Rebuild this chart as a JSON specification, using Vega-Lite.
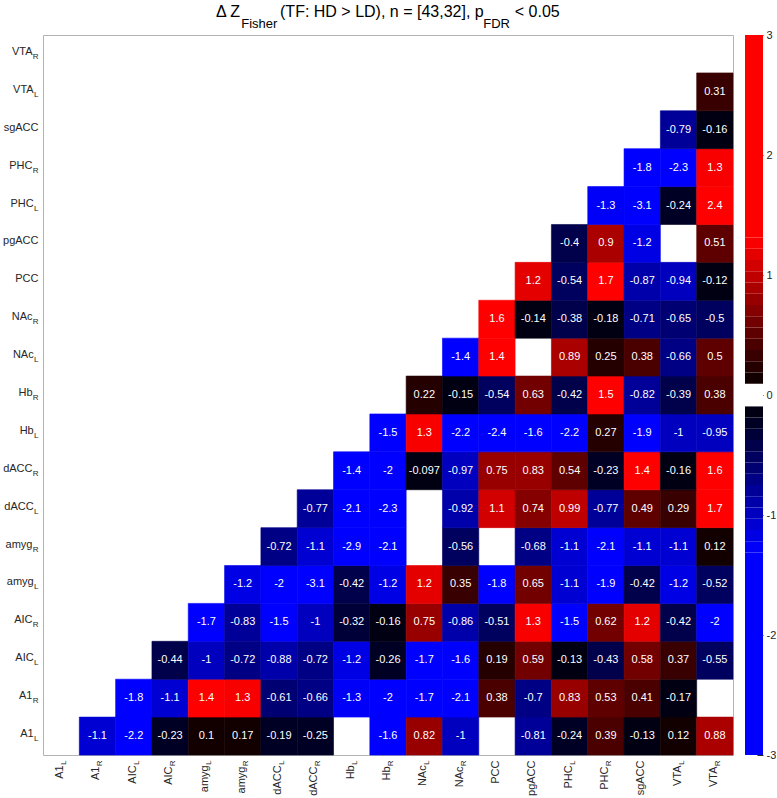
{
  "$schema": "https://vega.github.io/schema/vega-lite/v6.json",
  "background": "white",
  "padding": {"left": 2, "top": 3, "right": 0, "bottom": 0},
  "bounds": "flush",
  "spacing": 12,
  "config": {
    "font": "Liberation Sans",
    "view": {"stroke": "#b3b3b3"},
    "axis": {"grid": false, "domain": false, "ticks": false, "labelColor": "#262626", "labelFont": "Liberation Sans", "labelLimit": 0, "labelOverlap": false, "labelFlush": false, "title": null}
  },
  "hconcat": [
    {
      "width": 690,
      "height": 720,
      "title": {
        "text": "\u0394 Z\u00a0\u00a0\u00a0\u00a0\u00a0\u00a0\u00a0\u00a0 (TF: HD > LD), n = [43,32], p\u00a0\u00a0\u00a0\u00a0\u00a0\u00a0 < 0.05",
        "subtitle": "\u200b\u00a0\u00a0\u00a0\u00a0\u00a0\u00a0\u00a0Fisher\u00a0\u00a0\u00a0\u00a0\u00a0\u00a0\u00a0\u00a0\u00a0\u00a0\u00a0\u00a0\u00a0\u00a0\u00a0\u00a0\u00a0\u00a0\u00a0\u00a0\u00a0\u00a0\u00a0\u00a0\u00a0\u00a0\u00a0\u00a0\u00a0\u00a0\u00a0\u00a0\u00a0\u00a0\u00a0\u00a0\u00a0\u00a0\u00a0\u00a0\u00a0\u00a0\u00a0\u00a0\u00a0\u00a0\u00a0\u00a0\u00a0\u00a0\u00a0\u00a0\u00a0\u00a0\u00a0\u00a0\u00a0FDR",
        "anchor": "start",
        "frame": "group",
        "dx": 173,
        "font": "Liberation Sans",
        "subtitleFont": "Liberation Sans",
        "fontSize": 16,
        "subtitleFontSize": 13,
        "fontWeight": "normal",
        "subtitleFontWeight": "normal",
        "color": "#000000",
        "subtitleColor": "#000000",
        "subtitlePadding": -2,
        "offset": 4
      },
      "data": {"values": [
        {"r":"A1_L","c":"A1_R","v":-1.1},{"r":"A1_L","c":"AIC_L","v":-2.2},{"r":"A1_L","c":"AIC_R","v":-0.23},{"r":"A1_L","c":"amyg_L","v":0.1},{"r":"A1_L","c":"amyg_R","v":0.17},{"r":"A1_L","c":"dACC_L","v":-0.19},{"r":"A1_L","c":"dACC_R","v":-0.25},{"r":"A1_L","c":"Hb_R","v":-1.6},{"r":"A1_L","c":"NAc_L","v":0.82},{"r":"A1_L","c":"NAc_R","v":-1},{"r":"A1_L","c":"pgACC","v":-0.81},{"r":"A1_L","c":"PHC_L","v":-0.24},{"r":"A1_L","c":"PHC_R","v":0.39},{"r":"A1_L","c":"sgACC","v":-0.13},{"r":"A1_L","c":"VTA_L","v":0.12},{"r":"A1_L","c":"VTA_R","v":0.88},
        {"r":"A1_R","c":"AIC_L","v":-1.8},{"r":"A1_R","c":"AIC_R","v":-1.1},{"r":"A1_R","c":"amyg_L","v":1.4},{"r":"A1_R","c":"amyg_R","v":1.3},{"r":"A1_R","c":"dACC_L","v":-0.61},{"r":"A1_R","c":"dACC_R","v":-0.66},{"r":"A1_R","c":"Hb_L","v":-1.3},{"r":"A1_R","c":"Hb_R","v":-2},{"r":"A1_R","c":"NAc_L","v":-1.7},{"r":"A1_R","c":"NAc_R","v":-2.1},{"r":"A1_R","c":"PCC","v":0.38},{"r":"A1_R","c":"pgACC","v":-0.7},{"r":"A1_R","c":"PHC_L","v":0.83},{"r":"A1_R","c":"PHC_R","v":0.53},{"r":"A1_R","c":"sgACC","v":0.41},{"r":"A1_R","c":"VTA_L","v":-0.17},
        {"r":"AIC_L","c":"AIC_R","v":-0.44},{"r":"AIC_L","c":"amyg_L","v":-1},{"r":"AIC_L","c":"amyg_R","v":-0.72},{"r":"AIC_L","c":"dACC_L","v":-0.88},{"r":"AIC_L","c":"dACC_R","v":-0.72},{"r":"AIC_L","c":"Hb_L","v":-1.2},{"r":"AIC_L","c":"Hb_R","v":-0.26},{"r":"AIC_L","c":"NAc_L","v":-1.7},{"r":"AIC_L","c":"NAc_R","v":-1.6},{"r":"AIC_L","c":"PCC","v":0.19},{"r":"AIC_L","c":"pgACC","v":0.59},{"r":"AIC_L","c":"PHC_L","v":-0.13},{"r":"AIC_L","c":"PHC_R","v":-0.43},{"r":"AIC_L","c":"sgACC","v":0.58},{"r":"AIC_L","c":"VTA_L","v":0.37},{"r":"AIC_L","c":"VTA_R","v":-0.55},
        {"r":"AIC_R","c":"amyg_L","v":-1.7},{"r":"AIC_R","c":"amyg_R","v":-0.83},{"r":"AIC_R","c":"dACC_L","v":-1.5},{"r":"AIC_R","c":"dACC_R","v":-1},{"r":"AIC_R","c":"Hb_L","v":-0.32},{"r":"AIC_R","c":"Hb_R","v":-0.16},{"r":"AIC_R","c":"NAc_L","v":0.75},{"r":"AIC_R","c":"NAc_R","v":-0.86},{"r":"AIC_R","c":"PCC","v":-0.51},{"r":"AIC_R","c":"pgACC","v":1.3},{"r":"AIC_R","c":"PHC_L","v":-1.5},{"r":"AIC_R","c":"PHC_R","v":0.62},{"r":"AIC_R","c":"sgACC","v":1.2},{"r":"AIC_R","c":"VTA_L","v":-0.42},{"r":"AIC_R","c":"VTA_R","v":-2},
        {"r":"amyg_L","c":"amyg_R","v":-1.2},{"r":"amyg_L","c":"dACC_L","v":-2},{"r":"amyg_L","c":"dACC_R","v":-3.1},{"r":"amyg_L","c":"Hb_L","v":-0.42},{"r":"amyg_L","c":"Hb_R","v":-1.2},{"r":"amyg_L","c":"NAc_L","v":1.2},{"r":"amyg_L","c":"NAc_R","v":0.35},{"r":"amyg_L","c":"PCC","v":-1.8},{"r":"amyg_L","c":"pgACC","v":0.65},{"r":"amyg_L","c":"PHC_L","v":-1.1},{"r":"amyg_L","c":"PHC_R","v":-1.9},{"r":"amyg_L","c":"sgACC","v":-0.42},{"r":"amyg_L","c":"VTA_L","v":-1.2},{"r":"amyg_L","c":"VTA_R","v":-0.52},
        {"r":"amyg_R","c":"dACC_L","v":-0.72},{"r":"amyg_R","c":"dACC_R","v":-1.1},{"r":"amyg_R","c":"Hb_L","v":-2.9},{"r":"amyg_R","c":"Hb_R","v":-2.1},{"r":"amyg_R","c":"NAc_R","v":-0.56},{"r":"amyg_R","c":"pgACC","v":-0.68},{"r":"amyg_R","c":"PHC_L","v":-1.1},{"r":"amyg_R","c":"PHC_R","v":-2.1},{"r":"amyg_R","c":"sgACC","v":-1.1},{"r":"amyg_R","c":"VTA_L","v":-1.1},{"r":"amyg_R","c":"VTA_R","v":0.12},
        {"r":"dACC_L","c":"dACC_R","v":-0.77},{"r":"dACC_L","c":"Hb_L","v":-2.1},{"r":"dACC_L","c":"Hb_R","v":-2.3},{"r":"dACC_L","c":"NAc_R","v":-0.92},{"r":"dACC_L","c":"PCC","v":1.1},{"r":"dACC_L","c":"pgACC","v":0.74},{"r":"dACC_L","c":"PHC_L","v":0.99},{"r":"dACC_L","c":"PHC_R","v":-0.77},{"r":"dACC_L","c":"sgACC","v":0.49},{"r":"dACC_L","c":"VTA_L","v":0.29},{"r":"dACC_L","c":"VTA_R","v":1.7},
        {"r":"dACC_R","c":"Hb_L","v":-1.4},{"r":"dACC_R","c":"Hb_R","v":-2},{"r":"dACC_R","c":"NAc_L","v":-0.097},{"r":"dACC_R","c":"NAc_R","v":-0.97},{"r":"dACC_R","c":"PCC","v":0.75},{"r":"dACC_R","c":"pgACC","v":0.83},{"r":"dACC_R","c":"PHC_L","v":0.54},{"r":"dACC_R","c":"PHC_R","v":-0.23},{"r":"dACC_R","c":"sgACC","v":1.4},{"r":"dACC_R","c":"VTA_L","v":-0.16},{"r":"dACC_R","c":"VTA_R","v":1.6},
        {"r":"Hb_L","c":"Hb_R","v":-1.5},{"r":"Hb_L","c":"NAc_L","v":1.3},{"r":"Hb_L","c":"NAc_R","v":-2.2},{"r":"Hb_L","c":"PCC","v":-2.4},{"r":"Hb_L","c":"pgACC","v":-1.6},{"r":"Hb_L","c":"PHC_L","v":-2.2},{"r":"Hb_L","c":"PHC_R","v":0.27},{"r":"Hb_L","c":"sgACC","v":-1.9},{"r":"Hb_L","c":"VTA_L","v":-1},{"r":"Hb_L","c":"VTA_R","v":-0.95},
        {"r":"Hb_R","c":"NAc_L","v":0.22},{"r":"Hb_R","c":"NAc_R","v":-0.15},{"r":"Hb_R","c":"PCC","v":-0.54},{"r":"Hb_R","c":"pgACC","v":0.63},{"r":"Hb_R","c":"PHC_L","v":-0.42},{"r":"Hb_R","c":"PHC_R","v":1.5},{"r":"Hb_R","c":"sgACC","v":-0.82},{"r":"Hb_R","c":"VTA_L","v":-0.39},{"r":"Hb_R","c":"VTA_R","v":0.38},
        {"r":"NAc_L","c":"NAc_R","v":-1.4},{"r":"NAc_L","c":"PCC","v":1.4},{"r":"NAc_L","c":"PHC_L","v":0.89},{"r":"NAc_L","c":"PHC_R","v":0.25},{"r":"NAc_L","c":"sgACC","v":0.38},{"r":"NAc_L","c":"VTA_L","v":-0.66},{"r":"NAc_L","c":"VTA_R","v":0.5},
        {"r":"NAc_R","c":"PCC","v":1.6},{"r":"NAc_R","c":"pgACC","v":-0.14},{"r":"NAc_R","c":"PHC_L","v":-0.38},{"r":"NAc_R","c":"PHC_R","v":-0.18},{"r":"NAc_R","c":"sgACC","v":-0.71},{"r":"NAc_R","c":"VTA_L","v":-0.65},{"r":"NAc_R","c":"VTA_R","v":-0.5},
        {"r":"PCC","c":"pgACC","v":1.2},{"r":"PCC","c":"PHC_L","v":-0.54},{"r":"PCC","c":"PHC_R","v":1.7},{"r":"PCC","c":"sgACC","v":-0.87},{"r":"PCC","c":"VTA_L","v":-0.94},{"r":"PCC","c":"VTA_R","v":-0.12},
        {"r":"pgACC","c":"PHC_L","v":-0.4},{"r":"pgACC","c":"PHC_R","v":0.9},{"r":"pgACC","c":"sgACC","v":-1.2},{"r":"pgACC","c":"VTA_R","v":0.51},
        {"r":"PHC_L","c":"PHC_R","v":-1.3},{"r":"PHC_L","c":"sgACC","v":-3.1},{"r":"PHC_L","c":"VTA_L","v":-0.24},{"r":"PHC_L","c":"VTA_R","v":2.4},
        {"r":"PHC_R","c":"sgACC","v":-1.8},{"r":"PHC_R","c":"VTA_L","v":-2.3},{"r":"PHC_R","c":"VTA_R","v":1.3},
        {"r":"sgACC","c":"VTA_L","v":-0.79},{"r":"sgACC","c":"VTA_R","v":-0.16},
        {"r":"VTA_L","c":"VTA_R","v":0.31}
      ]},
      "layer": [
        {
          "mark": {"type": "rect", "strokeWidth": 0.6},
          "encoding": {
            "x": {"field": "c", "type": "nominal", "scale": {"domain": ["A1_L","A1_R","AIC_L","AIC_R","amyg_L","amyg_R","dACC_L","dACC_R","Hb_L","Hb_R","NAc_L","NAc_R","PCC","pgACC","PHC_L","PHC_R","sgACC","VTA_L","VTA_R"], "paddingInner": 0, "paddingOuter": 0},
              "axis": {"orient": "bottom", "labelAngle": 270, "labelAlign": "right", "labelBaseline": "middle", "labelFontSize": 11, "labelOffset": -1,
                "labelExpr": "indexof(datum.value,'_')<0 ? datum.value : substring(datum.value,0,indexof(datum.value,'_'))",
                "labelPadding": {"condition": [{"test": "indexof(datum.value,'_')<0", "value": 5}, {"test": "indexof(datum.value,'_L')>=0", "value": 9.8}], "value": 11}}},
            "y": {"field": "r", "type": "nominal", "scale": {"domain": ["VTA_R","VTA_L","sgACC","PHC_R","PHC_L","pgACC","PCC","NAc_R","NAc_L","Hb_R","Hb_L","dACC_R","dACC_L","amyg_R","amyg_L","AIC_R","AIC_L","A1_R","A1_L"], "paddingInner": 0, "paddingOuter": 0},
              "axis": {"orient": "left", "labelAlign": "right", "labelBaseline": "middle", "labelFontSize": 11, "labelOffset": -2,
                "labelExpr": "indexof(datum.value,'_')<0 ? datum.value : substring(datum.value,0,indexof(datum.value,'_'))",
                "labelPadding": {"condition": [{"test": "indexof(datum.value,'_')<0", "value": 5}, {"test": "indexof(datum.value,'_L')>=0", "value": 9.8}], "value": 11}}},
            "fill": {"field": "v", "type": "quantitative", "legend": null, "scale": {"type": "quantize", "domain": [-3, 3], "nice": false, "zero": false, "range": ["#0000ff","#0000ff","#0000ff","#0000ff","#0000ff","#0000ff","#0000ff","#0000ff","#0000ff","#0000ff","#0000ff","#0000ff","#0000ff","#0000ff","#0000ff","#0000ff","#0000ff","#0000ff","#0000f8","#0000e5","#0000d2","#0000be","#0000ab","#000098","#000085","#000072","#00005f","#00004b","#000038","#000025","#000012","#ffffff","#ffffff","#120000","#250000","#380000","#4b0000","#5f0000","#720000","#850000","#980000","#ab0000","#be0000","#d20000","#e50000","#f80000","#ff0000","#ff0000","#ff0000","#ff0000","#ff0000","#ff0000","#ff0000","#ff0000","#ff0000","#ff0000","#ff0000","#ff0000","#ff0000","#ff0000","#ff0000","#ff0000","#ff0000","#ff0000"]}},
            "stroke": {"field": "v", "type": "quantitative", "legend": null, "scale": {"type": "quantize", "domain": [-3, 3], "nice": false, "zero": false, "range": ["#0000ff","#0000ff","#0000ff","#0000ff","#0000ff","#0000ff","#0000ff","#0000ff","#0000ff","#0000ff","#0000ff","#0000ff","#0000ff","#0000ff","#0000ff","#0000ff","#0000ff","#0000ff","#0000f8","#0000e5","#0000d2","#0000be","#0000ab","#000098","#000085","#000072","#00005f","#00004b","#000038","#000025","#000012","#ffffff","#ffffff","#120000","#250000","#380000","#4b0000","#5f0000","#720000","#850000","#980000","#ab0000","#be0000","#d20000","#e50000","#f80000","#ff0000","#ff0000","#ff0000","#ff0000","#ff0000","#ff0000","#ff0000","#ff0000","#ff0000","#ff0000","#ff0000","#ff0000","#ff0000","#ff0000","#ff0000","#ff0000","#ff0000","#ff0000"]}}
          }
        },
        {
          "mark": {"type": "text", "color": "#ffffff", "fontSize": 11, "font": "Liberation Sans", "baseline": "middle", "align": "center"},
          "encoding": {
            "x": {"field": "c", "type": "nominal", "scale": {"domain": ["A1_L","A1_R","AIC_L","AIC_R","amyg_L","amyg_R","dACC_L","dACC_R","Hb_L","Hb_R","NAc_L","NAc_R","PCC","pgACC","PHC_L","PHC_R","sgACC","VTA_L","VTA_R"], "paddingInner": 0, "paddingOuter": 0},
              "axis": {"orient": "bottom", "labelAngle": 270, "labelAlign": "right", "labelBaseline": "middle", "labelFontSize": 8, "labelOffset": 3, "labelPadding": 5,
                "labelExpr": "indexof(datum.value,'_')<0 ? '' : substring(datum.value,indexof(datum.value,'_')+1)"}},
            "y": {"field": "r", "type": "nominal", "scale": {"domain": ["VTA_R","VTA_L","sgACC","PHC_R","PHC_L","pgACC","PCC","NAc_R","NAc_L","Hb_R","Hb_L","dACC_R","dACC_L","amyg_R","amyg_L","AIC_R","AIC_L","A1_R","A1_L"], "paddingInner": 0, "paddingOuter": 0},
              "axis": {"orient": "left", "labelAlign": "right", "labelBaseline": "middle", "labelFontSize": 8, "labelOffset": 3, "labelPadding": 5,
                "labelExpr": "indexof(datum.value,'_')<0 ? '' : substring(datum.value,indexof(datum.value,'_')+1)"}},
            "text": {"field": "v", "type": "nominal"}
          }
        }
      ],
      "resolve": {"axis": {"x": "independent", "y": "independent"}}
    },
    {
      "width": 18,
      "height": 720,
      "view": {"stroke": null},
      "data": {"values": [
        {"lo": -3, "hi": -1.3125},
        {"lo": -1.3125, "hi": -1.21875},
        {"lo": -1.21875, "hi": -1.125},
        {"lo": -1.125, "hi": -1.03125},
        {"lo": -1.03125, "hi": -0.9375},
        {"lo": -0.9375, "hi": -0.84375},
        {"lo": -0.84375, "hi": -0.75},
        {"lo": -0.75, "hi": -0.65625},
        {"lo": -0.65625, "hi": -0.5625},
        {"lo": -0.5625, "hi": -0.46875},
        {"lo": -0.46875, "hi": -0.375},
        {"lo": -0.375, "hi": -0.28125},
        {"lo": -0.28125, "hi": -0.1875},
        {"lo": -0.1875, "hi": -0.09375},
        {"lo": -0.09375, "hi": 0.09375},
        {"lo": 0.09375, "hi": 0.1875},
        {"lo": 0.1875, "hi": 0.28125},
        {"lo": 0.28125, "hi": 0.375},
        {"lo": 0.375, "hi": 0.46875},
        {"lo": 0.46875, "hi": 0.5625},
        {"lo": 0.5625, "hi": 0.65625},
        {"lo": 0.65625, "hi": 0.75},
        {"lo": 0.75, "hi": 0.84375},
        {"lo": 0.84375, "hi": 0.9375},
        {"lo": 0.9375, "hi": 1.03125},
        {"lo": 1.03125, "hi": 1.125},
        {"lo": 1.125, "hi": 1.21875},
        {"lo": 1.21875, "hi": 1.3125},
        {"lo": 1.3125, "hi": 3}
      ]},
      "mark": {"type": "rect"},
      "encoding": {
        "y": {"field": "lo", "type": "quantitative", "scale": {"domain": [-3, 3], "nice": false, "zero": false},
          "axis": {"orient": "right", "values": [-3, -2, -1, 0, 1, 2, 3], "ticks": true, "tickSize": -6, "tickColor": "#262626", "tickWidth": 1, "labelPadding": 9, "labelFontSize": 11, "labelBaseline": "middle", "labelExpr": "'' + datum.value"}},
        "y2": {"field": "hi"},
        "fill": {"field": "lo", "type": "quantitative", "legend": null, "scale": {"type": "quantize", "domain": [-3, 3], "nice": false, "zero": false, "range": ["#0000ff","#0000ff","#0000ff","#0000ff","#0000ff","#0000ff","#0000ff","#0000ff","#0000ff","#0000ff","#0000ff","#0000ff","#0000ff","#0000ff","#0000ff","#0000ff","#0000ff","#0000ff","#0000f8","#0000e5","#0000d2","#0000be","#0000ab","#000098","#000085","#000072","#00005f","#00004b","#000038","#000025","#000012","#ffffff","#ffffff","#120000","#250000","#380000","#4b0000","#5f0000","#720000","#850000","#980000","#ab0000","#be0000","#d20000","#e50000","#f80000","#ff0000","#ff0000","#ff0000","#ff0000","#ff0000","#ff0000","#ff0000","#ff0000","#ff0000","#ff0000","#ff0000","#ff0000","#ff0000","#ff0000","#ff0000","#ff0000","#ff0000","#ff0000"]}}
      }
    }
  ]
}
